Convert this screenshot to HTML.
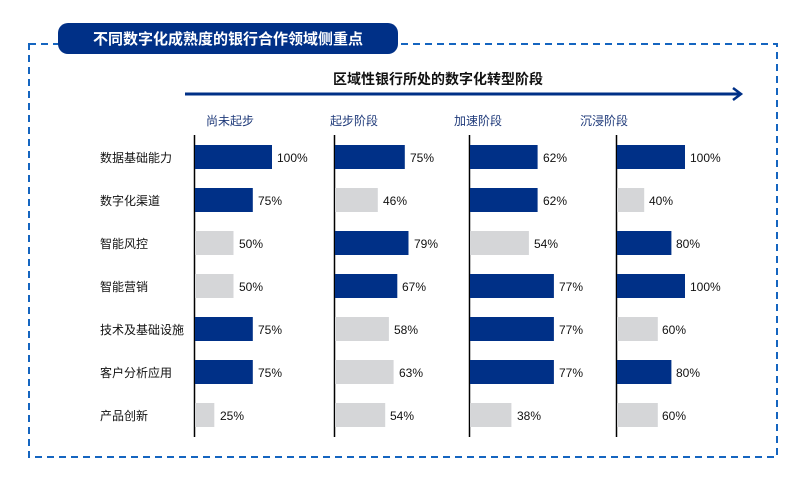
<!DOCTYPE html>
<html><head><meta charset="utf-8"><style>
body{margin:0;background:#fff}
svg text{font-family:"Liberation Sans","Noto Sans CJK SC",sans-serif}
</style></head><body>
<svg width="797" height="485" xmlns="http://www.w3.org/2000/svg">
<rect x="29" y="44" width="748" height="413" fill="none" stroke="#1565c0" stroke-width="2" stroke-dasharray="7,5"/>
<rect x="58" y="23" width="340" height="31" rx="10" fill="#003087"/>
<text x="228" y="44" font-size="15" font-weight="bold" fill="#fff" text-anchor="middle">不同数字化成熟度的银行合作领域侧重点</text>
<text x="438" y="84" font-size="14" font-weight="bold" fill="#111" text-anchor="middle">区域性银行所处的数字化转型阶段</text>
<line x1="185" y1="94" x2="740" y2="94" stroke="#003087" stroke-width="3"/>
<polyline points="733,88 741,94 733,100" fill="none" stroke="#003087" stroke-width="2.5"/>
<g font-size="12" fill="#1f3a7a" text-anchor="middle">
<text x="230" y="125">尚未起步</text><text x="354" y="125">起步阶段</text><text x="478" y="125">加速阶段</text><text x="604" y="125">沉浸阶段</text>
</g>
<g font-size="12" fill="#111">
<text x="100" y="162">数据基础能力</text><text x="100" y="205">数字化渠道</text><text x="100" y="248">智能风控</text><text x="100" y="291">智能营销</text><text x="100" y="334">技术及基础设施</text><text x="100" y="377">客户分析应用</text><text x="100" y="420">产品创新</text>
</g>
<g stroke="#000" stroke-width="1.5">
<line x1="194.5" y1="135" x2="194.5" y2="437"/><line x1="334.5" y1="135" x2="334.5" y2="437"/><line x1="469.5" y1="135" x2="469.5" y2="437"/><line x1="616.5" y1="135" x2="616.5" y2="437"/>
</g>
<g>
<rect x="195" y="145" width="77" height="24" fill="#003087"/>
<rect x="195" y="188" width="57.8" height="24" fill="#003087"/>
<rect x="195" y="231" width="38.5" height="24" fill="#d5d6d8"/>
<rect x="195" y="274" width="38.5" height="24" fill="#d5d6d8"/>
<rect x="195" y="317" width="57.8" height="24" fill="#003087"/>
<rect x="195" y="360" width="57.8" height="24" fill="#003087"/>
<rect x="195" y="403" width="19.3" height="24" fill="#d5d6d8"/>

<rect x="335" y="145" width="69.8" height="24" fill="#003087"/>
<rect x="335" y="188" width="42.8" height="24" fill="#d5d6d8"/>
<rect x="335" y="231" width="73.5" height="24" fill="#003087"/>
<rect x="335" y="274" width="62.3" height="24" fill="#003087"/>
<rect x="335" y="317" width="53.9" height="24" fill="#d5d6d8"/>
<rect x="335" y="360" width="58.6" height="24" fill="#d5d6d8"/>
<rect x="335" y="403" width="50.2" height="24" fill="#d5d6d8"/>

<rect x="470" y="145" width="67.6" height="24" fill="#003087"/>
<rect x="470" y="188" width="67.6" height="24" fill="#003087"/>
<rect x="470" y="231" width="58.9" height="24" fill="#d5d6d8"/>
<rect x="470" y="274" width="83.9" height="24" fill="#003087"/>
<rect x="470" y="317" width="83.9" height="24" fill="#003087"/>
<rect x="470" y="360" width="83.9" height="24" fill="#003087"/>
<rect x="470" y="403" width="41.4" height="24" fill="#d5d6d8"/>

<rect x="617" y="145" width="68" height="24" fill="#003087"/>
<rect x="617" y="188" width="27.2" height="24" fill="#d5d6d8"/>
<rect x="617" y="231" width="54.4" height="24" fill="#003087"/>
<rect x="617" y="274" width="68" height="24" fill="#003087"/>
<rect x="617" y="317" width="40.8" height="24" fill="#d5d6d8"/>
<rect x="617" y="360" width="54.4" height="24" fill="#003087"/>
<rect x="617" y="403" width="40.8" height="24" fill="#d5d6d8"/>
</g>
<g font-size="12" fill="#111">
<text x="277" y="162">100%</text><text x="258" y="205">75%</text><text x="239" y="248">50%</text><text x="239" y="291">50%</text><text x="258" y="334">75%</text><text x="258" y="377">75%</text><text x="220" y="420">25%</text>
<text x="410" y="162">75%</text><text x="383" y="205">46%</text><text x="414" y="248">79%</text><text x="402" y="291">67%</text><text x="394" y="334">58%</text><text x="399" y="377">63%</text><text x="390" y="420">54%</text>
<text x="543" y="162">62%</text><text x="543" y="205">62%</text><text x="534" y="248">54%</text><text x="559" y="291">77%</text><text x="559" y="334">77%</text><text x="559" y="377">77%</text><text x="517" y="420">38%</text>
<text x="690" y="162">100%</text><text x="649" y="205">40%</text><text x="676" y="248">80%</text><text x="690" y="291">100%</text><text x="662" y="334">60%</text><text x="676" y="377">80%</text><text x="662" y="420">60%</text>
</g>
</svg>
</body></html>
